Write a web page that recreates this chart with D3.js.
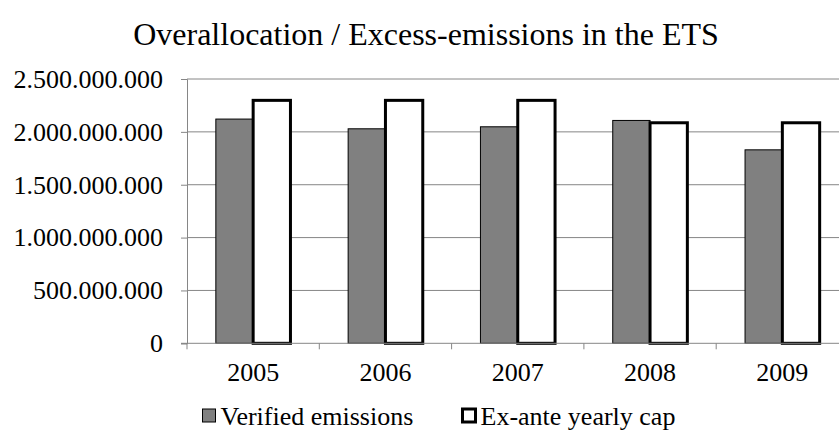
<!DOCTYPE html>
<html>
<head>
<meta charset="utf-8">
<script src="https://cdn.jsdelivr.net/npm/d3@7/dist/d3.min.js"></script>
<style>
  html, body { margin: 0; padding: 0; background: #fff; }
</style>
</head>
<body>
<svg id="chart" width="839" height="441"></svg>
<script>
const categories = ["2005", "2006", "2007", "2008", "2009"];
const seriesNames = ["Verified emissions", "Ex-ante yearly cap"];
const verifiedEmissions = [2121000000, 2029000000, 2048000000, 2108000000, 1830000000];
const exAnteCap = [2298000000, 2298000000, 2298000000, 2086000000, 2086000000];
const yTicks = [0, 500000000, 1000000000, 1500000000, 2000000000, 2500000000];
const titleText = "Overallocation / Excess-emissions in the ETS";

const FONT = "'Liberation Serif', 'Times New Roman', serif";
const svg = d3.select("#chart");
const W = 839, H = 441;
const plot = { left: 187, right: 848.5, top: 79, bottom: 343.3 };

const locale = d3.formatLocale({ decimal: ",", thousands: ".", grouping: [3], currency: ["", ""] });
const fmt = locale.format(",d");

const x = d3.scaleBand().domain(categories).range([plot.left, plot.right]).paddingInner(0.436).paddingOuter(0.218);
const xs = d3.scaleBand().domain(seriesNames).range([0, x.bandwidth()]);
const y = d3.scaleLinear().domain([0, 2500000000]).range([plot.bottom, plot.top]);

// gridlines
svg.append("g").selectAll("line").data(yTicks.filter(d => d > 0)).join("line")
  .attr("x1", plot.left).attr("x2", W)
  .attr("y1", d => y(d)).attr("y2", d => y(d))
  .attr("stroke", "#868686").attr("stroke-width", 1);

// y axis
const yAxis = svg.append("g").attr("transform", `translate(${plot.left},0)`)
  .call(d3.axisLeft(y).tickValues(yTicks).tickFormat(fmt).tickSize(6).tickPadding(18));
yAxis.attr("font-family", null).attr("font-size", null);
yAxis.select(".domain").attr("stroke", "#868686");
yAxis.selectAll(".tick line").attr("stroke", "#868686");
yAxis.selectAll(".tick text").attr("font-size", 26).style("font-family", FONT).attr("fill", "#000");

// bars
const data = categories.map((c, i) => ({ cat: c, vals: [verifiedEmissions[i], exAnteCap[i]] }));
const groups = svg.append("g").selectAll("g").data(data).join("g")
  .attr("transform", d => `translate(${x(d.cat)},0)`);

groups.append("rect")
  .attr("x", xs(seriesNames[0])).attr("width", xs.bandwidth())
  .attr("y", d => y(d.vals[0])).attr("height", d => y(0) - y(d.vals[0]))
  .attr("fill", "#808080").attr("stroke", "#000").attr("stroke-width", 1);

groups.append("rect")
  .attr("x", xs(seriesNames[1])).attr("width", xs.bandwidth())
  .attr("y", d => y(d.vals[1])).attr("height", d => y(0) - y(d.vals[1]))
  .attr("fill", "#fff").attr("stroke", "#000").attr("stroke-width", 3);

// x axis
const xAxis = svg.append("g").attr("transform", `translate(0,${plot.bottom})`)
  .call(d3.axisBottom(x).tickSize(0).tickPadding(19));
xAxis.attr("font-family", null).attr("font-size", null);
xAxis.select(".domain").remove();
xAxis.append("line").attr("x1", plot.left - 6).attr("x2", W).attr("y1", 0).attr("y2", 0).attr("stroke", "#868686");
const bounds = categories.map(c => x(c) - x.step() * x.paddingOuter());
xAxis.selectAll(".bnd").data(bounds).join("line").attr("class", "bnd")
  .attr("x1", d => d).attr("x2", d => d).attr("y1", 0).attr("y2", 6).attr("stroke", "#868686");
xAxis.selectAll(".tick text").attr("font-size", 26).style("font-family", FONT).attr("fill", "#000").attr("dy", "0.71em");

// title
svg.append("text").attr("x", 426).attr("y", 45).attr("text-anchor", "middle")
  .attr("font-size", 32).style("font-family", FONT).text(titleText);

// legend
const legendItems = [
  { name: seriesNames[0], fill: "#808080", sw: 1, x: 202.5 },
  { name: seriesNames[1], fill: "#fff", sw: 3, x: 462.5 }
];
const lg = svg.append("g").selectAll("g").data(legendItems).join("g")
  .attr("transform", d => `translate(${d.x},416)`);
lg.append("rect").attr("x", 0).attr("y", -7).attr("width", 13).attr("height", 13)
  .attr("fill", d => d.fill).attr("stroke", "#000").attr("stroke-width", d => d.sw);
lg.append("text").attr("x", 18).attr("y", 0).attr("dy", "0.33em").attr("font-size", 26)
  .style("font-family", FONT).text(d => d.name);
</script>
</body>
</html>
